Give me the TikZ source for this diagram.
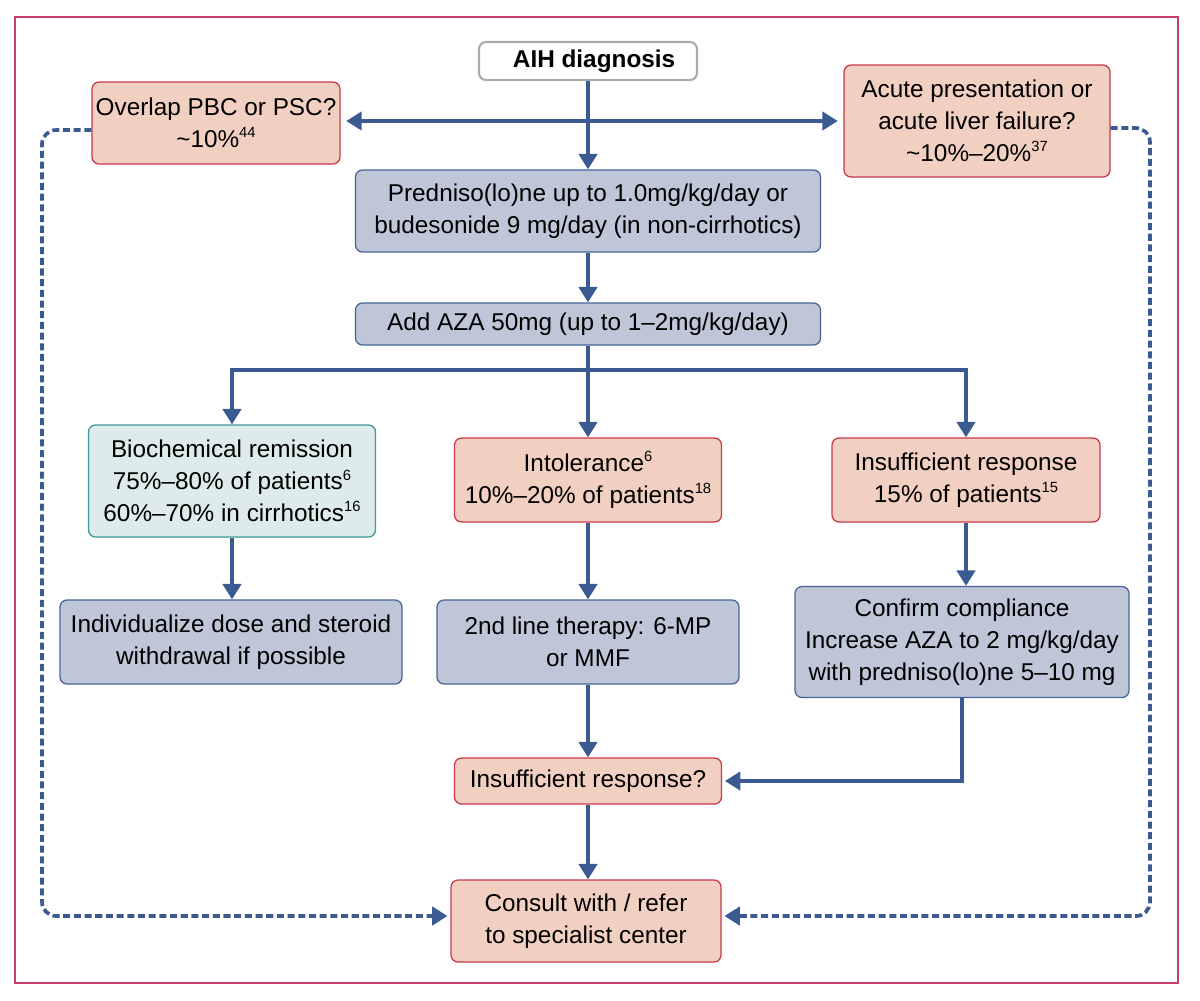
\documentclass[tikz,border=0pt]{standalone}
\usepackage{fontspec}
\setmainfont{Liberation Sans}
\usetikzlibrary{arrows.meta}
\definecolor{framec}{RGB}{200,62,110}
\definecolor{salfill}{RGB}{242,208,193}
\definecolor{saldraw}{RGB}{200,55,75}
\definecolor{gbfill}{RGB}{190,198,216}
\definecolor{gbdraw}{RGB}{72,100,150}
\definecolor{tlfill}{RGB}{221,236,234}
\definecolor{tldraw}{RGB}{62,150,150}
\definecolor{arrc}{RGB}{58,90,145}
\definecolor{aihdraw}{RGB}{170,170,170}
\newcommand{\supr}[1]{\raisebox{0.75ex}{\fontsize{10.5}{10.5}\selectfont #1}}
\tikzset{
  wh/.style 2 args={minimum width=#1*0.025cm, minimum height=#2*0.025cm},
  basebox/.style={rounded corners=5pt, line width=0.9pt, align=center, inner sep=2pt,
    font=\fontsize{17.3}{22.6}\selectfont},
  salbox/.style={basebox, fill=salfill, draw=saldraw},
  gbbox/.style={basebox, fill=gbfill, draw=gbdraw},
  tlbox/.style={basebox, fill=tlfill, draw=tldraw},
  whbox/.style={basebox, fill=white, draw=aihdraw, line width=1.5pt},
  conn/.style={draw=arrc, line width=2.6pt},
  arr/.style={conn, -{Triangle[width=13pt,length=11pt]}},
  dsh/.style={draw=arrc, line width=2.6pt, dash pattern=on 5pt off 2.6pt, rounded corners=10pt,
    -{Triangle[width=13pt,length=11pt]}},
}
\begin{document}
\begin{tikzpicture}[x=0.025cm,y=-0.025cm]
\useasboundingbox (0,0) rectangle (1200,1000);
\draw[framec, line width=1.2pt] (15,17) rectangle (1178,983);

\node[whbox, wh={218}{38}] (aih) at (588,61) {\hspace*{0.5em}\textbf{AIH diagnosis}};
\node[salbox, wh={248}{82}] (overlap) at (216,123) {Overlap PBC or PSC?\\ \textasciitilde10\%\supr{44}};
\node[salbox, wh={266}{112}] (acute) at (977,121) {Acute presentation or\\ acute liver failure?\\ \textasciitilde10\%–20\%\supr{37}};
\node[gbbox, wh={465}{82}] (pred) at (588,211) {Predniso(lo)ne up to 1.0mg/kg/day or\\ budesonide 9 mg/day (in non-cirrhotics)};
\node[gbbox, wh={465}{42}] (aza) at (588,324) {Add AZA 50mg (up to 1–2mg/kg/day)};
\node[tlbox, wh={287}{112}] (bio) at (232,481) {Biochemical remission\\ 75\%–80\% of patients\supr{6}\\ 60\%–70\% in cirrhotics\supr{16}};
\node[salbox, wh={267}{84}] (intol) at (588,480) {Intolerance\supr{6}\\ 10\%–20\% of patients\supr{18}};
\node[salbox, wh={268}{84}] (insuf) at (966,480) {Insufficient response\\ 15\% of patients\supr{15}};
\node[gbbox, wh={342}{84}] (indiv) at (231,642) {Individualize dose and steroid\\ withdrawal if possible};
\node[gbbox, wh={302}{84}] (second) at (588,642) {2nd line therapy: 6-MP\\ or MMF};
\node[gbbox, wh={334}{111}] (confirm) at (962,642) {Confirm compliance\\ Increase AZA to 2 mg/kg/day\\ with predniso(lo)ne 5–10 mg};
\node[salbox, wh={267}{46}] (insq) at (588,781) {Insufficient response?};
\node[salbox, wh={270}{82}] (consult) at (586,921) {Consult with / refer\\ to specialist center};

\coordinate (br) at (588,370);
\coordinate (dl) at (42,916);
\coordinate (dr) at (1150,916);

\draw[arr] (aih.south) -- (pred.north);
\draw[conn, {Triangle[width=13pt,length=11pt]}-{Triangle[width=13pt,length=11pt]}, shorten <=4pt, shorten >=4pt] (overlap.east |- acute.west) -- (acute.west);
\draw[arr] (pred.south) -- (aza.north);
\draw[conn] (aza.south) -- (br);
\draw[arr] (br) -| (bio.north);
\draw[arr] (br) -- (intol.north);
\draw[arr] (br) -| (insuf.north);
\draw[arr] (bio.south) -- (bio.south |- indiv.north);
\draw[arr] (intol.south) -- (second.north);
\draw[arr] (insuf.south) -- (insuf.south |- confirm.north);
\draw[arr] (second.south) -- (second.south |- insq.north);
\draw[arr, shorten >=2pt] (confirm.south) |- (insq.east);
\draw[arr] (insq.south) -- (insq.south |- consult.north);
\draw[dsh, shorten >=2pt] ([yshift=-5pt]overlap.west) -| (dl) -- (consult.west |- dl);
\draw[dsh, shorten >=2pt] ([yshift=-5pt]acute.east) -| (dr) -- (consult.east |- dr);
\end{tikzpicture}
\end{document}
